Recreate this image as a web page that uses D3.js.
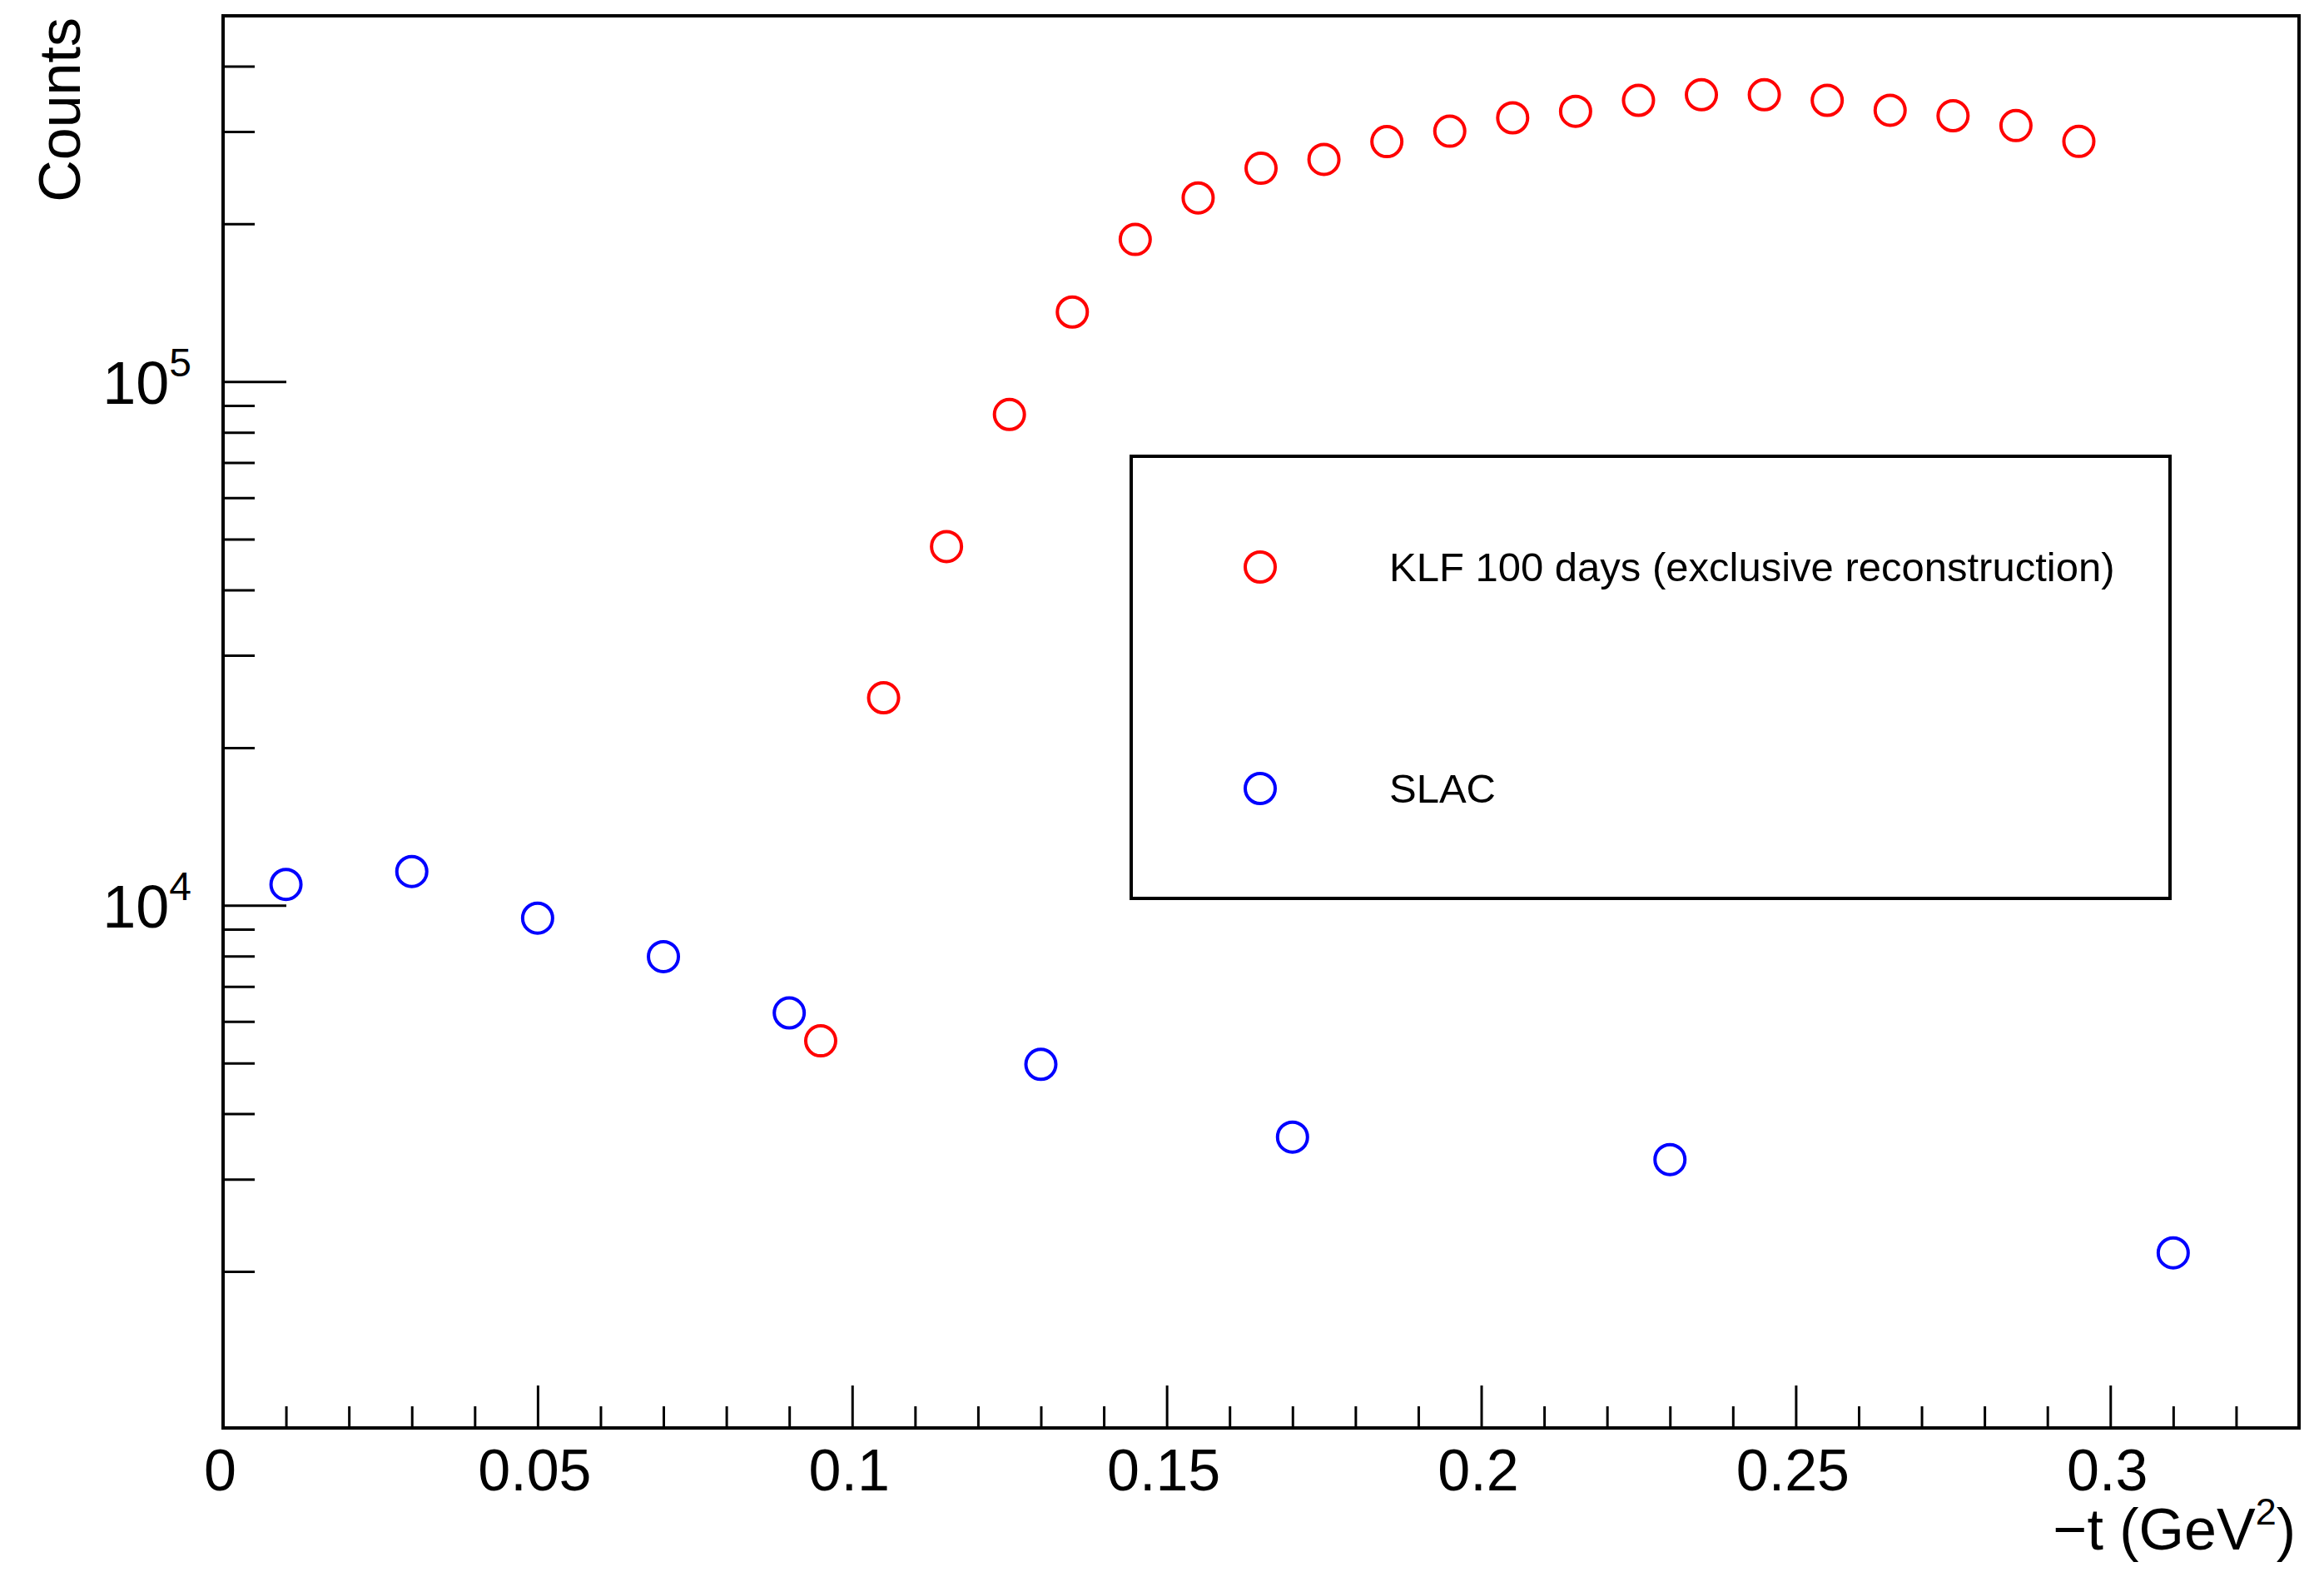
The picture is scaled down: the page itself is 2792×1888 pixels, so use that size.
<!DOCTYPE html>
<html lang="en">
<head>
<meta charset="UTF-8">
<title>Counts vs -t</title>
<style>
  body { margin: 0; background: #fff; }
  svg text { font-family: "Liberation Sans", Arial, Helvetica, sans-serif; }
</style>
</head>
<body>
<script src="https://d3js.org/d3.v7.min.js"></script>
<div id="chart"></div>
<script>
// KLF 100 days (exclusive reconstruction)
const klfT = [0.095, 0.105, 0.115, 0.125, 0.135, 0.145, 0.155, 0.165, 0.175, 0.185, 0.195,
              0.205, 0.215, 0.225, 0.235, 0.245, 0.255, 0.265, 0.275, 0.285, 0.295];
const klfCounts = [5510, 24900, 48400, 86500, 135700, 186700, 224100, 255300, 265500, 287000, 300500,
                   318700, 328000, 344100, 352700, 352700, 344100, 329400, 321600, 308000, 287300];

// SLAC
const slacT = [0.01, 0.03, 0.05, 0.07, 0.09, 0.13, 0.17, 0.23, 0.31];
const slacCounts = [10960, 11600, 9450, 7980, 6230, 4970, 3610, 3270, 2170];

// axis ticks
const xMajor = [0, 0.05, 0.1, 0.15, 0.2, 0.25, 0.3];
const xMinor = [0.01, 0.02, 0.03, 0.04, 0.06, 0.07, 0.08, 0.09, 0.11, 0.12, 0.13, 0.14,
                0.16, 0.17, 0.18, 0.19, 0.21, 0.22, 0.23, 0.24, 0.26, 0.27, 0.28, 0.29, 0.31, 0.32];
const yMajor = [1e4, 1e5];
const yMinor = [2000, 3000, 4000, 5000, 6000, 7000, 8000, 9000,
                20000, 30000, 40000, 50000, 60000, 70000, 80000, 90000,
                200000, 300000, 400000];

const series = [
  {name: "KLF 100 days (exclusive reconstruction)", color: "#ff0000", t: klfT, c: klfCounts},
  {name: "SLAC", color: "#0000ff", t: slacT, c: slacCounts}
];

const W = 2792, H = 1888;
const frame = {left: 268, right: 2762, top: 19, bottom: 1715};

const svg = d3.select("#chart").append("svg")
  .attr("width", W).attr("height", H);
svg.append("rect").attr("width", W).attr("height", H).attr("fill", "#fff");

const x = d3.scaleLinear().domain([0, 0.33]).range([frame.left, frame.right]);
const y = d3.scaleLog().domain([1005, 499000]).range([frame.bottom, frame.top]);

// x axis: ticks point into the frame
const xMinorG = svg.append("g")
  .attr("transform", `translate(0,${frame.bottom})`)
  .call(d3.axisBottom(x).tickValues(xMinor).tickSize(-26).tickFormat(""));
const xMajorG = svg.append("g")
  .attr("transform", `translate(0,${frame.bottom})`)
  .call(d3.axisBottom(x).tickValues(xMajor).tickSize(-51).tickPadding(25)
        .tickFormat(d => d3.format("")(d)));
[xMinorG, xMajorG].forEach(g => {
  g.select(".domain").remove();
  g.selectAll(".tick line").attr("stroke", "#000").attr("stroke-width", 3);
});
xMajorG.selectAll(".tick text")
  .attr("font-size", 70).attr("fill", "#000").attr("dx", -4);

// y axis
const yMinorG = svg.append("g")
  .attr("transform", `translate(${frame.left},0)`)
  .call(d3.axisLeft(y).tickValues(yMinor).tickSize(-38).tickFormat(""));
const yMajorG = svg.append("g")
  .attr("transform", `translate(${frame.left},0)`)
  .call(d3.axisLeft(y).tickValues(yMajor).tickSize(-76).tickPadding(38).tickFormat(() => "10"));
[yMinorG, yMajorG].forEach(g => {
  g.select(".domain").remove();
  g.selectAll(".tick line").attr("stroke", "#000").attr("stroke-width", 3);
});
yMajorG.selectAll(".tick text")
  .attr("font-size", 72).attr("fill", "#000").attr("dy", "0.37em")
  .each(function(d) {
    d3.select(this).append("tspan")
      .attr("font-size", 48).attr("dy", -33)
      .text(Math.round(Math.log10(d)));
  });

// frame
svg.append("rect")
  .attr("x", frame.left).attr("y", frame.top)
  .attr("width", frame.right - frame.left).attr("height", frame.bottom - frame.top)
  .attr("fill", "none").attr("stroke", "#000").attr("stroke-width", 4);

// axis titles
svg.append("text")
  .attr("transform", `translate(96,${frame.top + 2}) rotate(-90)`)
  .attr("text-anchor", "end")
  .attr("font-size", 70)
  .text("Counts");

const xt = svg.append("text")
  .attr("x", 2758).attr("y", 1861)
  .attr("text-anchor", "end")
  .attr("font-size", 70);
xt.append("tspan").text("\u2212t (GeV");
xt.append("tspan").attr("font-size", 45).attr("dy", -30).text("2");
xt.append("tspan").attr("dy", 30).text(")");

// markers
series.forEach(s => {
  svg.append("g").selectAll("circle")
    .data(s.t.map((t, i) => ({t: t, c: s.c[i]})))
    .join("circle")
      .attr("cx", d => x(d.t))
      .attr("cy", d => y(d.c))
      .attr("r", 18)
      .attr("fill", "none")
      .attr("stroke", s.color)
      .attr("stroke-width", 4);
});

// legend
const leg = {x0: 1359, y0: 548, x1: 2607, y1: 1079};
svg.append("rect")
  .attr("x", leg.x0).attr("y", leg.y0)
  .attr("width", leg.x1 - leg.x0).attr("height", leg.y1 - leg.y0)
  .attr("fill", "#fff").attr("stroke", "#000").attr("stroke-width", 4);

const legRowY = [681, 947];
series.forEach((s, i) => {
  svg.append("circle")
    .attr("cx", 1514).attr("cy", legRowY[i]).attr("r", 18)
    .attr("fill", "none").attr("stroke", s.color).attr("stroke-width", 4);
  svg.append("text")
    .attr("x", 1669).attr("y", legRowY[i] + 17)
    .attr("font-size", 49)
    .text(s.name);
});
</script>
</body>
</html>
